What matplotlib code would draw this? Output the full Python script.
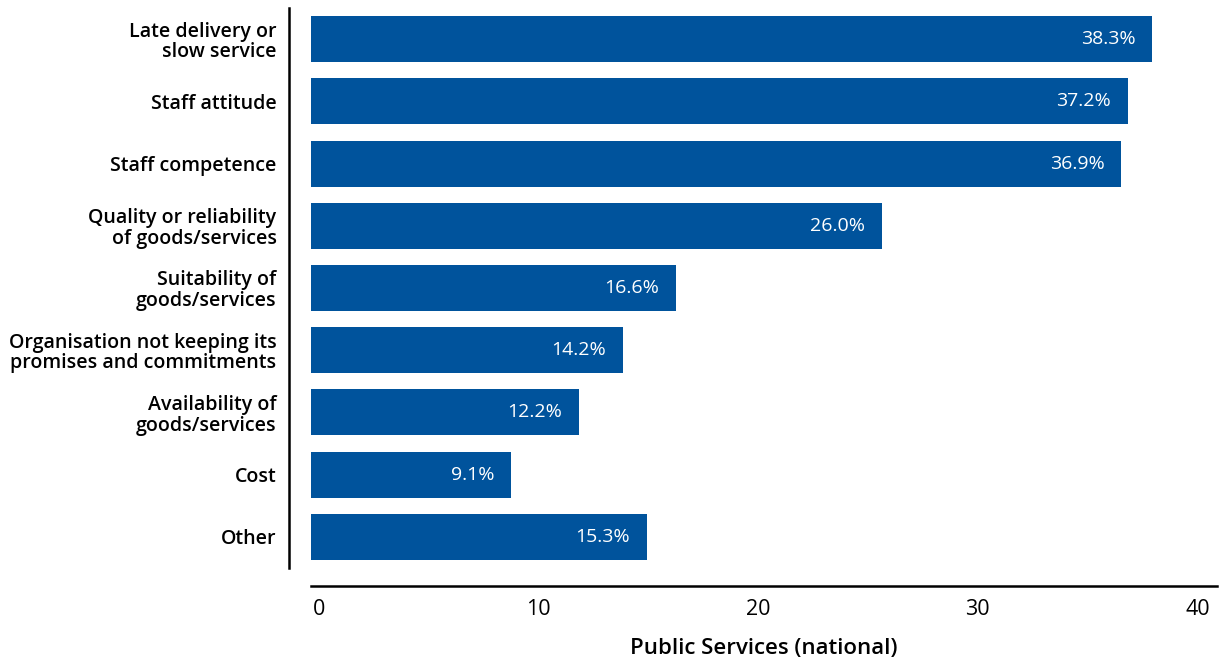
import matplotlib
matplotlib.use("Agg")
import matplotlib.pyplot as plt
import matplotlib.transforms as mtransforms

categories = [
    "Late delivery or\nslow service",
    "Staff attitude",
    "Staff competence",
    "Quality or reliability\nof goods/services",
    "Suitability of\ngoods/services",
    "Organisation not keeping its\npromises and commitments",
    "Availability of\ngoods/services",
    "Cost",
    "Other",
]
values = [38.3, 37.2, 36.9, 26.0, 16.6, 14.2, 12.2, 9.1, 15.3]
xticks = [0, 10, 20, 30, 40]
xlabel = "Public Services (national)"

BLUE = "#00539C"

plt.rcParams["font.family"] = ["Open Sans", "DejaVu Sans"]


def main():
    fig = plt.figure(figsize=(12.19, 6.59), dpi=100)
    ax = fig.add_axes([311 / 1219, 1 - 568 / 659, (1217 - 311) / 1219, 560 / 659])

    # spines first: set_position resets the ticks
    for s in ["top", "right"]:
        ax.spines[s].set_visible(False)
    ax.spines["left"].set_position(("outward", 15.8))
    ax.spines["bottom"].set_position(("outward", 13))
    ax.spines["left"].set_linewidth(1.8)
    ax.spines["bottom"].set_linewidth(1.8)

    y = list(range(len(categories)))
    ax.barh(y, values, height=0.74, color=BLUE)
    ax.set_ylim(len(categories) - 0.5, -0.5)
    ax.set_xlim(0, 41.26)

    for yi, v in zip(y, values):
        ax.annotate(f"{v:.1f}%", xy=(v, yi), xytext=(-12, 0),
                    textcoords="offset points", ha="right", va="center",
                    color="white", fontsize=14)

    ax.tick_params(axis="y", length=0, pad=9, labelsize=14.1)
    ax.tick_params(axis="x", length=0, pad=9, labelsize=15.5)

    ax.set_yticks(y)
    ax.set_yticklabels(categories, fontweight="semibold", linespacing=1.05)
    ax.set_xticks(xticks)
    ax.set_xticklabels([str(t) for t in xticks])
    shift = mtransforms.ScaledTranslation(8 / 100, 0, fig.dpi_scale_trans)
    for lab in ax.get_xticklabels():
        lab.set_transform(lab.get_transform() + shift)

    ax.set_xlabel(xlabel, fontsize=16, fontweight="semibold", labelpad=13)

    fig.savefig("out.png", dpi=100)


if __name__ == "__main__":
    main()
